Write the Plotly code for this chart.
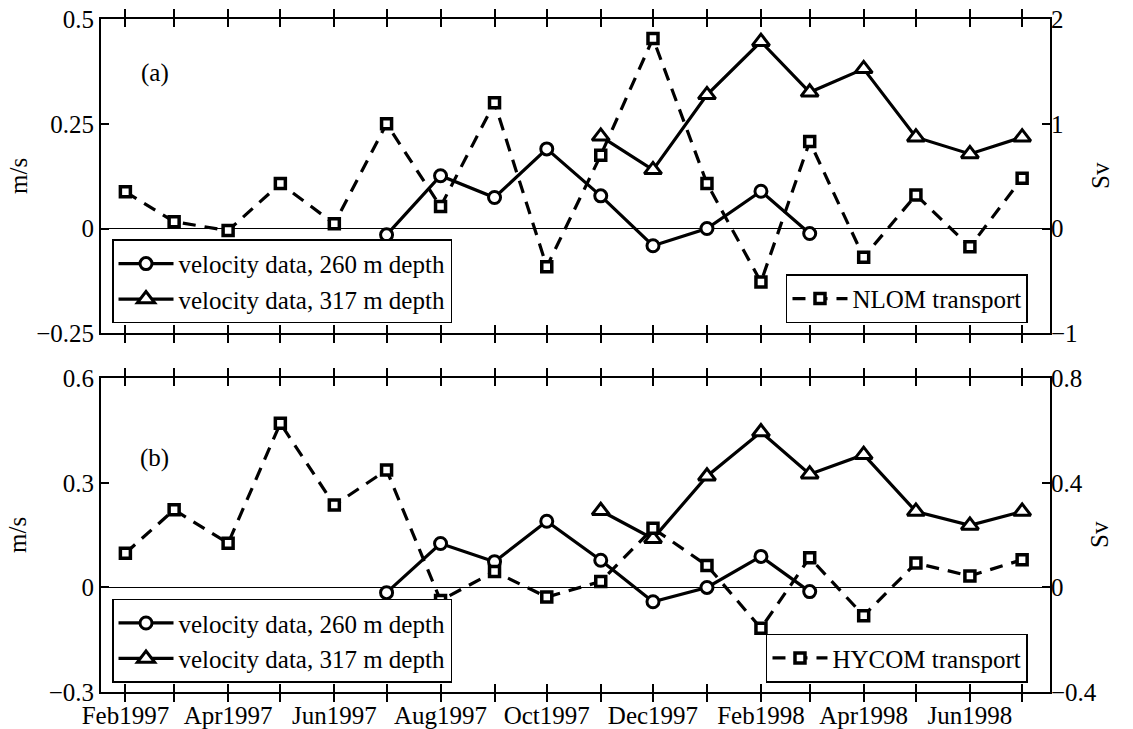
import plotly.graph_objects as go

# ---------------- data ----------------
months = ['1997-02-01', '1997-03-01', '1997-04-01', '1997-05-01', '1997-06-01', '1997-07-01',
          '1997-08-01', '1997-09-01', '1997-10-01', '1997-11-01', '1997-12-01', '1998-01-01',
          '1998-02-01', '1998-03-01', '1998-04-01', '1998-05-01', '1998-06-01', '1998-07-01']
month_labels = ['Feb1997', '', 'Apr1997', '', 'Jun1997', '', 'Aug1997', '', 'Oct1997', '',
                'Dec1997', '', 'Feb1998', '', 'Apr1998', '', 'Jun1998', '']

months_260 = ['1997-07-01', '1997-08-01', '1997-09-01', '1997-10-01', '1997-11-01',
              '1997-12-01', '1998-01-01', '1998-02-01', '1998-03-01']
vel_260 = [-0.015, 0.126, 0.074, 0.190, 0.078, -0.041, 0.000, 0.089, -0.012]

months_317 = ['1997-11-01', '1997-12-01', '1998-01-01', '1998-02-01', '1998-03-01',
              '1998-04-01', '1998-05-01', '1998-06-01', '1998-07-01']
vel_317 = [0.220, 0.140, 0.319, 0.446, 0.325, 0.381, 0.218, 0.178, 0.218]

nlom_transport = [0.35, 0.065, -0.02, 0.43, 0.045, 1.0, 0.21, 1.2, -0.365,
                  0.70, 1.815, 0.43, -0.51, 0.83, -0.275, 0.32, -0.175, 0.48]
hycom_transport = [0.131, 0.297, 0.169, 0.628, 0.315, 0.449, -0.050, 0.061, -0.037,
                   0.023, 0.226, 0.084, -0.156, 0.114, -0.108, 0.093, 0.044, 0.106]

# ---------------- styling ----------------
FONT = 'Liberation Serif'
FS = 25
solid = dict(color='black', width=3.2)
dashed = dict(color='black', width=3.2, dash='13px,9px')
circ = dict(symbol='circle', size=12, color='white', line=dict(color='black', width=3))
tri = dict(symbol='triangle-up', size=15, color='white', line=dict(color='black', width=3))
sq = dict(symbol='square', size=10, color='white', line=dict(color='black', width=3.5))

fig = go.Figure()

# top panel
fig.add_trace(go.Scatter(x=months, y=nlom_transport, mode='lines+markers', line=dashed, marker=sq,
                         name='NLOM transport', xaxis='x', yaxis='y2', legend='legend2'))
fig.add_trace(go.Scatter(x=months_260, y=vel_260, mode='lines+markers', line=solid, marker=circ,
                         name='velocity data, 260 m depth', xaxis='x', yaxis='y', legend='legend'))
fig.add_trace(go.Scatter(x=months_317, y=vel_317, mode='lines+markers', line=solid, marker=tri,
                         name='velocity data, 317 m depth', xaxis='x', yaxis='y', legend='legend'))

# bottom panel
fig.add_trace(go.Scatter(x=months, y=hycom_transport, mode='lines+markers', line=dashed, marker=sq,
                         name='HYCOM transport', xaxis='x2', yaxis='y4', legend='legend4'))
fig.add_trace(go.Scatter(x=months_260, y=vel_260, mode='lines+markers', line=solid, marker=circ,
                         name='velocity data, 260 m depth', xaxis='x2', yaxis='y3', legend='legend3'))
fig.add_trace(go.Scatter(x=months_317, y=vel_317, mode='lines+markers', line=solid, marker=tri,
                         name='velocity data, 317 m depth', xaxis='x2', yaxis='y3', legend='legend3'))

xrange = ['1997-01-18', '1998-07-17']
tickfont = dict(family=FONT, size=FS, color='black')
xcommon = dict(type='date', range=xrange, tickvals=months, ticktext=month_labels,
               ticks='inside', ticklen=8, tickwidth=1.5, tickcolor='black',
               showline=True, linewidth=2, linecolor='black', mirror='allticks',
               showgrid=False, zeroline=False, tickfont=tickfont, ticklabelstandoff=0,
               automargin=False)
ycommon = dict(ticks='inside', ticklen=8, tickwidth=1.5, tickcolor='black',
               showline=True, linewidth=2, linecolor='black', mirror=True,
               showgrid=False, tickfont=tickfont, zeroline=True,
               zerolinecolor='black', zerolinewidth=1, automargin=False)
y2common = dict(ticks='inside', ticklen=8, tickwidth=1.5, tickcolor='black', side='right',
                showline=False, showgrid=False, zeroline=False, tickfont=tickfont,
                automargin=False)

legcommon = dict(font=dict(family=FONT, size=FS, color='black'), bgcolor='white',
                 bordercolor='black', borderwidth=1.5, tracegroupgap=0, itemwidth=55)

TOP_LO = 0.533
BOT_HI = 0.4661

afont = dict(family=FONT, size=FS, color='black')
fig.update_layout(
    width=1133, height=729,
    margin=dict(l=101, r=83, t=19, b=37, autoexpand=False),
    paper_bgcolor='white', plot_bgcolor='white',
    font=dict(family=FONT, size=FS, color='black'),
    xaxis=dict(xcommon, domain=[0, 1], anchor='y', showticklabels=False),
    yaxis=dict(ycommon, domain=[TOP_LO, 1], range=[-0.25, 0.5], tickvals=[-0.25, 0, 0.25, 0.5],
               ticktext=['\u22120.25', '0', '0.25', '0.5'], anchor='x'),
    yaxis2=dict(y2common, overlaying='y', range=[-1, 2], tickvals=[-1, 0, 1, 2],
                ticktext=['\u22121', '0', '1', '2'], anchor='x'),
    xaxis2=dict(xcommon, domain=[0, 1], anchor='y3'),
    yaxis3=dict(ycommon, domain=[0, BOT_HI], range=[-0.3, 0.6], tickvals=[-0.3, 0, 0.3, 0.6],
                ticktext=['\u22120.3', '0', '0.3', '0.6'], anchor='x2'),
    yaxis4=dict(y2common, overlaying='y3', range=[-0.4, 0.8], tickvals=[-0.4, 0, 0.4, 0.8],
                ticktext=['\u22120.4', '0', '0.4', '0.8'], anchor='x2'),
    legend=dict(legcommon, x=0.0116, y=0.5478, xanchor='left', yanchor='bottom'),
    legend2=dict(legcommon, x=0.9768, y=0.5478, xanchor='right', yanchor='bottom'),
    legend3=dict(legcommon, x=0.0116, y=0.0138, xanchor='left', yanchor='bottom'),
    legend4=dict(legcommon, x=0.9768, y=0.0138, xanchor='right', yanchor='bottom'),
    annotations=[
        dict(text='(a)', x=0.0569, y=0.9198, xref='paper', yref='paper', showarrow=False,
             xanchor='center', yanchor='middle', font=afont),
        dict(text='(b)', x=0.0569, y=0.3477, xref='paper', yref='paper', showarrow=False,
             xanchor='center', yanchor='middle', font=afont),
        dict(text='m/s', x=-0.0875, y=0.7667, xref='paper', yref='paper', showarrow=False,
             xanchor='center', yanchor='middle', textangle=-90, font=afont),
        dict(text='m/s', x=-0.0875, y=0.2333, xref='paper', yref='paper', showarrow=False,
             xanchor='center', yanchor='middle', textangle=-90, font=afont),
        dict(text='Sv', x=1.0527, y=0.7667, xref='paper', yref='paper', showarrow=False,
             xanchor='center', yanchor='middle', textangle=-90, font=afont),
        dict(text='Sv', x=1.0527, y=0.2333, xref='paper', yref='paper', showarrow=False,
             xanchor='center', yanchor='middle', textangle=-90, font=afont),
    ],
)

fig.write_html('out.html')
